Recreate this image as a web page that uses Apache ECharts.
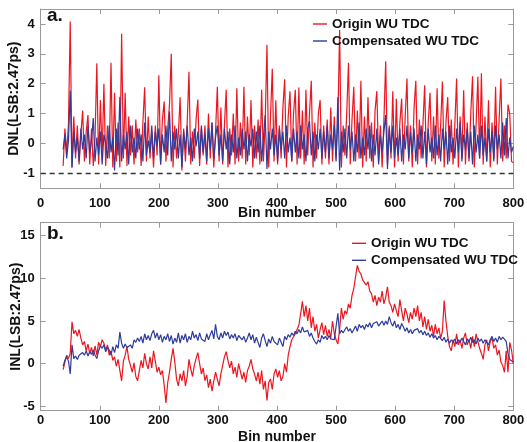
<!DOCTYPE html>
<html><head><meta charset="utf-8">
<script src="https://cdn.jsdelivr.net/npm/echarts@6/dist/echarts.min.js"></script>
<style>html,body{margin:0;padding:0;background:#fff}#c{width:527px;height:442px}</style>
</head><body><div id="c"></div>
<script>
// bins: start 38, step 3 (bin numbers 38..800)
const binStart = 38, binStep = 3, binCount = 255;
const dnlTicks = [-1, 0, 1, 2, 3, 4];
const inlTicks = [-5, 0, 5, 10, 15];
const xTicks = [0, 100, 200, 300, 400, 500, 600, 700, 800];
const seriesNames = ['Origin WU TDC', 'Compensated WU TDC'];

const dnlOrigin = [
-0.75,0.5,-0.3,0.65,4.08,-0.8,0.9,-0.5,0.6,-0.7,
0.3,1.1,-0.6,0.4,0.95,-0.7,0.5,-0.75,0.2,2.68,
-0.7,1.45,-0.4,2.0,-0.75,0.6,-0.5,2.7,-0.8,1.7,
-0.6,0.7,-0.8,3.67,-0.5,1.7,-0.75,0.9,-0.4,0.6,
-0.7,0.8,-0.3,0.5,-0.75,0.7,1.88,-0.6,0.9,-0.5,
0.4,-0.8,0.6,-0.4,2.28,-0.7,0.8,1.4,-0.6,0.5,
1.3,3.0,-0.8,0.6,-0.5,0.3,1.55,-0.9,0.5,-0.6,
0.7,2.4,-0.7,0.4,-0.5,0.8,1.47,-0.75,0.5,-0.4,
0.6,-0.7,1.0,-0.5,0.7,-0.8,0.4,1.9,-0.6,1.2,
-0.7,0.6,1.8,-0.8,0.5,-0.4,1.0,-0.7,1.85,-0.6,
0.7,-0.5,1.9,-0.7,0.9,-0.4,1.45,-0.8,0.6,-0.5,
0.8,-0.7,1.8,-0.6,0.7,3.3,-0.8,0.9,2.5,-0.6,
1.45,-0.7,0.6,-0.5,1.2,2.15,-0.8,0.9,1.75,-0.6,
1.0,1.8,-0.7,1.87,-0.5,1.1,-0.7,1.8,-0.4,1.0,
2.1,-0.8,0.7,-0.5,1.0,1.45,-0.7,0.6,-0.5,0.8,
-0.7,1.2,-0.6,0.9,-0.5,0.7,3.8,-0.8,0.6,-0.4,
1.0,2.7,-0.7,0.8,1.9,-0.6,1.1,-0.5,2.1,-0.8,
0.9,-0.6,1.55,-0.5,0.7,-0.8,1.1,1.75,-0.6,0.6,
-0.8,0.8,2.75,-0.7,0.6,-0.5,1.75,-0.8,1.5,-0.6,
0.7,1.5,-0.7,0.9,2.17,-0.6,0.6,-0.8,1.2,2.1,
-0.7,0.8,-0.5,0.6,1.95,-0.8,0.7,1.7,-0.6,0.9,
-0.7,1.85,-0.5,0.6,2.07,-0.8,0.7,1.55,-0.6,0.8,
-0.7,0.6,2.17,-0.8,0.9,-0.5,1.78,-0.7,0.7,-0.6,
1.0,2.25,-0.8,0.6,2.23,-0.5,2.35,-0.7,0.9,-0.6,
1.45,-0.8,0.7,-0.5,1.9,-0.7,0.8,2.17,-0.6,0.6,
-0.5,1.3,1.0,-0.6,-0.65
];
const dnlComp = [
-0.2,0.3,-0.5,0.1,1.76,-0.8,0.4,-0.3,0.2,-0.6,
0.5,-0.2,0.3,-0.5,0.6,-0.3,0.1,0.85,-0.6,0.2,
-0.4,0.4,-0.7,0.3,0.0,-0.5,0.6,-0.3,0.2,-0.9,
0.5,-0.4,1.56,-0.6,0.3,-0.2,0.4,-0.7,0.6,-0.3,
0.2,-0.5,0.5,-0.2,0.3,-0.6,0.7,-0.4,0.1,-0.3,
0.6,-0.5,0.4,-0.1,0.5,-0.7,0.3,-0.3,0.6,-0.4,
1.07,-0.6,0.4,-0.2,0.5,-0.5,0.3,-0.8,0.4,-0.2,
0.6,-0.4,0.2,-0.6,0.5,-0.1,0.4,-0.5,0.6,-0.3,
0.3,-0.6,0.5,-0.2,0.7,-0.5,0.2,0.6,-0.4,0.3,
-0.6,0.5,-0.2,0.4,-0.7,0.3,-0.3,0.6,-0.5,0.2,
-0.4,0.5,-0.2,0.4,-0.6,0.3,-0.1,0.5,-0.5,0.4,
-0.3,0.6,-0.6,0.2,0.95,-0.85,0.4,-0.2,0.5,-0.4,
0.3,-0.6,0.5,-0.2,0.4,-0.5,0.6,-0.3,0.2,-0.6,
0.5,-0.3,0.4,-0.5,0.6,-0.2,0.3,-0.6,0.5,0.75,
-0.4,0.4,-0.6,0.3,-0.2,0.5,-0.5,0.4,-0.3,0.6,
-0.5,0.3,-0.2,0.6,-0.6,1.55,-0.9,0.4,-0.3,0.5,
-0.5,0.6,-0.2,0.4,-0.6,0.3,-0.3,0.7,-0.5,0.2,
-0.4,0.5,-0.2,0.6,-0.6,0.3,-0.4,0.5,-0.7,0.3,
-0.3,0.4,0.95,-0.85,0.5,-0.3,0.6,-0.5,0.2,-0.4,
0.5,-0.6,0.3,-0.2,0.6,-0.5,0.4,-0.3,0.5,-0.6,
0.3,-0.2,0.6,-0.5,0.4,-0.7,0.5,-0.3,0.2,-0.5,
0.6,-0.4,0.3,-0.6,0.5,-0.2,0.4,-0.7,0.6,-0.3,
0.2,-0.5,0.5,-0.3,0.7,-0.6,0.3,-0.2,0.5,-0.5,
0.4,-0.7,0.6,-0.3,0.3,-0.5,0.6,-0.4,0.2,-0.6,
0.5,-0.3,0.4,-0.6,0.6,-0.2,0.3,-0.5,0.7,-0.4,
0.85,-0.5,0.2,-0.3,-0.1
];
const inlOrigin = [
-0.7,0.2,1.0,0.6,1.2,4.9,3.5,3.9,3.2,4.0,
3.0,2.2,2.6,1.5,2.3,1.2,1.9,0.9,2.1,1.0,
2.5,2.0,2.8,2.4,1.6,2.2,1.0,1.5,0.4,0.8,
-0.3,0.5,-0.8,-2.0,0.3,1.0,2.0,0.5,-0.2,-1.0,
0.1,-1.5,-2.0,-0.8,0.4,-0.5,1.2,0.0,-0.6,0.8,
-0.5,1.5,0.3,-1.0,-0.4,-1.3,-0.8,-2.5,-4.6,-2.2,
-1.0,0.5,1.8,0.2,-1.8,-2.6,-1.2,-2.0,-0.8,-2.6,
-1.5,0.5,-0.6,-1.5,-0.2,0.6,1.3,0.0,-1.2,-0.5,
-2.0,-1.3,-2.8,-1.8,-3.2,-2.0,-1.0,-1.8,-2.6,-1.2,
-0.2,0.8,1.4,0.4,-0.5,0.3,-1.2,-0.4,-1.6,0.0,
-0.9,-1.8,-1.0,-2.2,-0.8,-0.3,0.5,-0.6,-1.2,-2.0,
-1.0,-2.4,-0.8,-3.0,-2.0,-4.3,-2.2,-1.8,-3.0,-1.2,
-0.6,-1.6,-0.8,-2.0,-1.5,0.0,-1.0,1.0,2.0,2.8,
3.0,3.5,4.0,4.5,5.8,7.3,5.5,6.8,5.0,6.5,
4.2,5.5,3.8,4.6,3.0,4.0,4.8,3.4,4.5,3.2,
4.0,3.0,5.0,3.5,2.8,2.3,4.0,6.5,5.2,6.2,
5.8,7.0,6.5,8.0,8.8,10.2,11.5,10.8,10.5,9.8,
10.0,9.2,9.6,8.5,8.2,7.2,8.0,6.8,7.8,7.2,
8.5,7.0,7.8,9.0,7.2,6.8,6.0,7.0,6.2,5.5,
7.5,6.2,5.0,6.5,5.8,4.8,6.0,5.2,6.5,5.5,
6.8,5.0,6.0,4.3,5.5,4.0,5.2,3.8,4.5,3.2,
4.6,3.5,4.2,3.0,3.8,7.4,5.0,3.2,2.0,1.5,
2.8,2.0,3.5,2.2,2.8,1.8,3.0,3.6,2.2,2.8,
1.8,3.2,2.0,3.5,2.6,1.8,1.2,0.5,2.2,2.8,
1.5,2.6,3.0,1.8,2.2,1.0,1.6,0.2,-0.2,-1.0,
1.5,-1.0,2.5,1.6,0.0
];
const inlComp = [
-0.3,0.4,0.8,0.3,-1.2,2.2,0.6,0.9,0.5,1.0,
0.8,1.3,1.0,1.5,0.9,1.4,1.1,1.6,1.0,0.6,
1.5,2.1,1.8,2.2,1.4,1.9,1.6,1.0,2.0,1.3,
2.2,1.8,3.7,2.4,1.8,2.3,1.9,2.0,2.2,1.8,
2.8,2.5,3.0,2.6,3.2,2.4,3.5,2.8,3.3,2.7,
3.5,3.9,3.0,3.6,2.8,3.4,2.5,3.2,2.8,3.5,
2.6,3.3,2.3,3.0,2.5,3.6,2.4,3.3,2.8,3.5,
2.5,3.2,2.8,3.8,3.0,3.4,2.7,3.6,2.9,3.1,
2.6,3.5,2.8,3.4,3.9,2.9,4.6,3.2,2.8,3.6,
3.0,3.8,3.3,3.7,2.9,3.4,3.0,3.5,2.7,3.3,
3.5,2.8,3.2,2.5,3.0,3.6,2.8,3.4,2.4,3.1,
2.5,1.9,3.0,3.5,2.7,2.0,2.9,2.4,3.2,2.6,
2.8,2.2,3.0,2.5,2.0,3.2,2.8,3.4,3.1,3.6,
3.3,3.8,3.5,4.0,3.6,4.3,3.7,3.5,3.9,3.2,
3.6,3.0,2.6,2.3,2.8,2.5,3.3,2.9,3.2,2.8,
3.3,2.9,3.1,2.8,3.0,5.9,3.5,3.9,3.6,4.0,
4.3,3.8,4.1,3.6,4.0,4.4,3.8,4.6,4.2,4.5,
4.0,4.6,4.3,4.8,4.2,4.7,4.5,4.9,4.4,4.7,
5.0,4.5,5.0,4.6,5.5,4.8,4.4,5.0,4.2,4.6,
4.0,4.7,4.3,3.8,4.2,3.6,4.0,3.5,3.9,3.7,
4.1,3.6,3.9,3.4,3.8,3.3,3.6,3.1,3.5,3.0,
3.3,2.8,3.2,3.0,2.7,3.1,2.5,2.9,2.4,2.8,
2.5,2.9,2.3,2.8,2.5,3.0,2.6,2.2,2.9,2.6,
3.1,2.5,2.8,2.3,3.0,2.6,2.9,2.4,2.8,3.0,
2.2,2.8,3.2,2.6,3.0,2.5,3.2,2.8,3.1,2.9,
2.6,1.2,0.5,0.3,0.2
];

const bins = [];
for (let i = 0; i < binCount; i++) bins.push(binStart + i * binStep);
const pairs = vals => vals.map((v, i) => [bins[i], v]);

const RED = '#ea1620', BLUE = '#2e3c9c';
const FONT = '"Liberation Sans", Arial, sans-serif';
const AX = '#9a9a9a';
const grids = [
  {left: 40.7, top: 9, width: 472.6, height: 179.3, containLabel: false, outerBoundsMode: 'none'},
  {left: 40.7, top: 222.7, width: 472.6, height: 188, containLabel: false, outerBoundsMode: 'none'}
];
const lbl = {color: '#111', fontFamily: FONT, fontWeight: 'bold', fontSize: 13};
const tickFmt = list => v => (list.indexOf(Math.round(v * 1000) / 1000) >= 0 ? String(v) : '');

function xAxes(gi, margin, nameGap) {
  return [
    {gridIndex: gi, type: 'value', min: 0, max: 800, interval: 100, position: 'bottom',
     name: 'Bin number', nameLocation: 'middle', nameGap: nameGap, nameMoveOverlap: false,
     nameTextStyle: {color: '#111', fontFamily: FONT, fontWeight: 'bold', fontSize: 14},
     axisLine: {show: true, onZero: false, lineStyle: {color: AX, width: 1}},
     axisTick: {show: true, inside: true, length: 5, lineStyle: {color: AX}},
     axisLabel: Object.assign({margin: margin, formatter: tickFmt(xTicks)}, lbl),
     splitLine: {show: false}},
    {gridIndex: gi, type: 'value', min: 0, max: 800, interval: 100, position: 'top',
     axisLine: {show: true, onZero: false, lineStyle: {color: AX, width: 1}},
     axisTick: {show: true, inside: true, length: 5, lineStyle: {color: AX}},
     axisLabel: {show: false}, splitLine: {show: false}}
  ];
}
function yAxes(gi, min, max, split, ticks, name, nameGap) {
  return [
    {gridIndex: gi, type: 'value', min: min, max: max, splitNumber: split, position: 'left',
     name: name, nameLocation: 'middle', nameGap: nameGap, nameMoveOverlap: false,
     nameTextStyle: {color: '#111', fontFamily: FONT, fontWeight: 'bold', fontSize: 14},
     axisLine: {show: true, onZero: false, lineStyle: {color: AX, width: 1}},
     axisTick: {show: true, inside: true, length: 5, lineStyle: {color: AX}},
     axisLabel: Object.assign({margin: 6, formatter: tickFmt(ticks), showMinLabel: false, showMaxLabel: false}, lbl),
     splitLine: {show: false}},
    {gridIndex: gi, type: 'value', min: min, max: max, splitNumber: split, position: 'right',
     axisLine: {show: true, onZero: false, lineStyle: {color: AX, width: 1}},
     axisTick: {show: true, inside: true, length: 5, lineStyle: {color: AX}},
     axisLabel: {show: false}, splitLine: {show: false}}
  ];
}
function line(name, data, color, xi, yi, extra) {
  return Object.assign({type: 'line', name: name, data: data, xAxisIndex: xi, yAxisIndex: yi,
    symbol: 'none', showSymbol: false, animation: false, silent: true,
    lineStyle: {color: color, width: 1.2}, itemStyle: {color: color}}, extra || {});
}
const legendStyle = {orient: 'vertical', itemWidth: 14, itemHeight: 14, itemGap: 0,
  icon: 'path://M0,0L10,0L10,1L0,1Z', data: seriesNames,
  textStyle: {color: '#111', fontFamily: FONT, fontWeight: 'bold', fontSize: 13.5, lineHeight: 17}};

const chart = echarts.init(document.getElementById('c'), null, {renderer: 'canvas'});
chart.setOption({
  animation: false,
  backgroundColor: '#fff',
  grid: grids,
  xAxis: [...xAxes(0, 9, 18), ...xAxes(1, 3, 19)],
  yAxis: [...yAxes(0, -1.5, 4.5, 5, dnlTicks, 'DNL(LSB:2.47ps)', 20),
          ...yAxes(1, -5.5, 16.5, 4, inlTicks, 'INL(LSB:2.47ps)', 18)],
  legend: [
    Object.assign({left: 308, top: 10.5}, legendStyle),
    Object.assign({left: 347, top: 229.8}, legendStyle)
  ],
  graphic: [
    {type: 'text', left: 47, top: 6, style: {text: 'a.', font: 'bold 19px ' + FONT, fill: '#111'}},
    {type: 'text', left: 47, top: 224, style: {text: 'b.', font: 'bold 19px ' + FONT, fill: '#111'}}
  ],
  series: [
    line(seriesNames[0], pairs(dnlOrigin), RED, 0, 0, {
      markLine: {silent: true, symbol: ['none', 'none'], label: {show: false},
        lineStyle: {color: '#333', type: [5, 4], width: 1.3}, data: [{yAxis: -1}]}}),
    line(seriesNames[1], pairs(dnlComp), BLUE, 0, 0),
    line(seriesNames[0], pairs(inlOrigin), RED, 2, 2),
    line(seriesNames[1], pairs(inlComp), BLUE, 2, 2)
  ]
});
</script></body></html>
